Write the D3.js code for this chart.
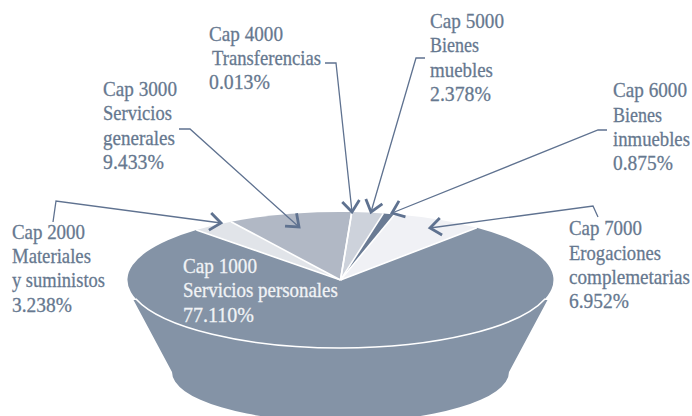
<!DOCTYPE html>
<html>
<head>
<meta charset="utf-8">
<style>html,body{margin:0;padding:0;background:#fff}svg{display:block}</style>
<script src="https://cdn.jsdelivr.net/npm/d3@7/dist/d3.min.js"></script>
</head>
<body>
<svg id="c" width="692" height="416" viewBox="0 0 692 416"></svg>
<script>
// Data
const categories = ["Cap 1000","Cap 2000","Cap 3000","Cap 4000","Cap 5000","Cap 6000","Cap 7000"];
const names = [["Servicios personales"],["Materiales","y suministos"],["Servicios","generales"],["Transferencias"],["Bienes","muebles"],["Bienes","inmuebles"],["Erogaciones","complemetarias"]];
const values = [77.110,3.238,9.433,0.013,2.378,0.875,6.952];
const valueLabels = ["77.110%","3.238%","9.433%","0.013%","2.378%","0.875%","6.952%"];

// Style and layout
const sliceColors = ["#8493a6","#e1e4e9","#b1b8c5","#c9ced8","#cdd2db","#6a7b94","#f0f1f5"];
const textColor = "#66788f", lineColor = "#5f7290";
const cx = 340.5, cy = 280, rx = 213, ry = 68, rad = Math.PI/180;
const labelX = [183,12,103,209,430,613,569];
const labelBase = [[273,297,322],[239,263,287,312],[96,120,145,169],[41,65,89],[28,52,77,101],[97,122,146,170],[235,260,284,308]];
const lineOffset = [[0,0,0],[0,0,0,0],[0,0,0,0],[0,3,0],[0,0,0,0],[0,0,0,0],[0,0,0,0]];
const lineWidths = [[74,155,71],[73,79,93,60],[74,69,72,61],[74,109,61],[74,49,63,61],[74,49,77,60],[73,92,121,60]];
const leaders = [
  null,
  [[53,222],[56,201],[221,223]],
  [[179,129],[190,129],[299,227]],
  [[325,63],[336,63],[352,212]],
  [[425,58],[416,58],[371,212]],
  [[607,130],[598,130],[392,213]],
  [[598,217],[593,206],[430,228]]
];

const svg = d3.select("#c");
const pie = d3.pie().sort(null).value(d => d).startAngle(39.8*rad).endAngle((39.8+360)*rad);
const arcs = pie(values);
const unit = d3.arc().innerRadius(0).outerRadius(1);

// Frustum body under the top ellipse
const bodyPath = d3.path();
bodyPath.moveTo(cx-207,300);
bodyPath.lineTo(cx-168.5,372);
const bodyTail = `A168.5 50 0 0 0 ${cx+168.5} 372`;
svg.append("path")
  .attr("d", bodyPath.toString()+bodyTail+`L${cx+207} 300Z`)
  .attr("fill",sliceColors[0]);

// Top face from the pie layout
const face = svg.append("g").attr("transform",`translate(${cx},${cy}) scale(${rx},${ry})`);
face.selectAll("path.slice").data(arcs).join("path")
  .attr("class","slice").attr("d",unit).attr("fill",(d,i)=>sliceColors[i]);

// White separators between slices
face.selectAll("line.sep").data(arcs).join("line")
  .attr("class","sep")
  .attr("x1",0).attr("y1",0)
  .attr("x2",d=>Math.sin(d.startAngle)).attr("y2",d=>-Math.cos(d.startAngle))
  .attr("stroke","#fff").attr("stroke-width",1.6)
  .attr("vector-effect","non-scaling-stroke");

// White front rim
const rim = d3.path();
rim.arc(0,0,1,16*rad,164*rad);
face.append("path").attr("d",rim.toString()).attr("fill","none")
  .attr("stroke","#fff").attr("stroke-width",1.6)
  .attr("vector-effect","non-scaling-stroke");

// Leaders with open arrowheads
const leaderLine = d3.line();
leaders.forEach(pts=>{
  if(!pts) return;
  svg.append("path").attr("d",leaderLine(pts)).attr("fill","none")
    .attr("stroke",lineColor).attr("stroke-width",1.3);
  const [a,b] = pts.slice(-2);
  const ang = Math.atan2(b[1]-a[1],b[0]-a[0]);
  const head = [-38,38].map(s=>[b[0]-14*Math.cos(ang+s*rad),b[1]-14*Math.sin(ang+s*rad)]);
  svg.append("path").attr("d",leaderLine([head[0],b,head[1]])).attr("fill","none")
    .attr("stroke",lineColor).attr("stroke-width",2.8);
});

// Labels, condensed horizontally to the reference's line widths
categories.forEach((cat,i)=>{
  const lines = [cat,...names[i],valueLabels[i]];
  lines.forEach((t,j)=>{
    const fill = i===0?"#f1f3f6":textColor;
    const el = svg.append("text")
      .attr("font-family","'Liberation Serif',serif")
      .attr("font-size",22)
      .attr("fill",fill).attr("stroke",fill).attr("stroke-width",0.3)
      .text(t);
    const sx = lineWidths[i][j]/el.node().getComputedTextLength();
    el.attr("transform",`translate(${labelX[i]+lineOffset[i][j]},${labelBase[i][j]}) scale(${sx},1)`);
  });
});
</script>
</body>
</html>
